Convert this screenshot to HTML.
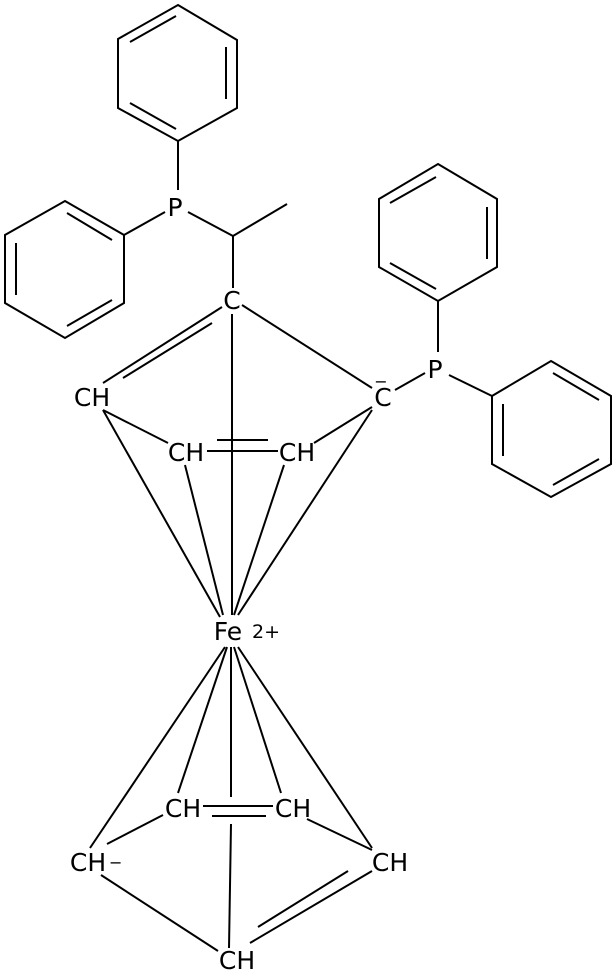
<!DOCTYPE html><html><head><style>body{margin:0;background:#fff}svg{display:block}text{font-family:"DejaVu Sans","Liberation Sans",sans-serif;font-size:25px;fill:#000}</style></head><body>
<svg width="616" height="980" viewBox="0 0 616 980" stroke="#000" stroke-width="2" fill="none">
<polygon points="178,5 237,40 237,108 178,141 118,108 118,39"/>
<line x1="130" y1="42" x2="176" y2="16"/><line x1="226" y1="47" x2="226" y2="99"/><line x1="130" y1="103" x2="176" y2="129"/>
<line x1="178" y1="141" x2="178" y2="190"/>
<polygon points="65,201 124,235 124,303 65,338 5,303 5,235"/>
<line x1="67" y1="213" x2="112" y2="240"/><line x1="16" y1="243" x2="16" y2="295"/><line x1="67" y1="326" x2="112" y2="300"/>
<line x1="124" y1="235" x2="165" y2="212"/>
<line x1="188" y1="212" x2="233" y2="236"/><line x1="233" y1="236" x2="287" y2="204"/><line x1="233" y1="236" x2="233" y2="288"/>
<polygon points="438,164 497,199 497,267 438,301 379,267 379,199"/>
<line x1="390" y1="203" x2="436" y2="177"/><line x1="487" y1="207" x2="487" y2="259"/><line x1="390" y1="263" x2="436" y2="289"/>
<line x1="438" y1="301" x2="438" y2="352"/>
<polygon points="551,361 611,396 611,464 551,497 492,464 492,396"/>
<line x1="553" y1="373" x2="599" y2="400"/><line x1="503" y1="404" x2="503" y2="456"/><line x1="553" y1="485" x2="599" y2="459"/>
<line x1="449" y1="375" x2="492" y2="396"/>
<line x1="395" y1="390" x2="425" y2="373"/>
<line x1="222" y1="307" x2="103" y2="383"/><line x1="212" y1="323" x2="123" y2="378"/>
<line x1="242" y1="305" x2="372" y2="388"/>
<line x1="103" y1="410" x2="168" y2="443"/>
<line x1="314" y1="443" x2="372" y2="407"/>
<line x1="217" y1="440" x2="268" y2="440"/><line x1="207" y1="451" x2="278" y2="451"/>
<line x1="232" y1="314" x2="232" y2="615"/>
<line x1="103" y1="410" x2="220" y2="617"/>
<line x1="185" y1="465" x2="223" y2="615"/>
<line x1="284" y1="465" x2="234" y2="615"/>
<line x1="372" y1="410" x2="238" y2="615"/>
<line x1="225" y1="647" x2="90" y2="848"/>
<line x1="227" y1="647" x2="178" y2="793"/>
<line x1="231" y1="647" x2="231" y2="797"/>
<line x1="234" y1="647" x2="281" y2="793"/>
<line x1="238" y1="647" x2="372" y2="848"/>
<line x1="203" y1="806" x2="273" y2="806"/><line x1="212" y1="816" x2="266" y2="816"/>
<line x1="163" y1="815" x2="107" y2="844"/>
<line x1="307" y1="819" x2="372" y2="850"/>
<line x1="372" y1="871" x2="250" y2="943"/><line x1="348" y1="871" x2="258" y2="927"/>
<line x1="101" y1="875" x2="218" y2="951"/>
<line x1="231" y1="824" x2="229" y2="948"/>
<g stroke="none">
<text x="175" y="216" text-anchor="middle">P</text>
<text x="232" y="309" text-anchor="middle">C</text>
<text x="92" y="406" text-anchor="middle">CH</text>
<text x="186" y="461" text-anchor="middle">CH</text>
<text x="297" y="461" text-anchor="middle">CH</text>
<text x="383" y="406" text-anchor="middle">C</text>
<text x="381" y="387" text-anchor="middle" style="font-size:16px">−</text>
<text x="435" y="378" text-anchor="middle">P</text>
<text x="228" y="640" text-anchor="middle">Fe</text>
<text x="266" y="638" text-anchor="middle" style="font-size:19px">2+</text>
<text x="183" y="817" text-anchor="middle">CH</text>
<text x="293" y="817" text-anchor="middle">CH</text>
<text x="88" y="871" text-anchor="middle">CH</text>
<text x="109" y="868" style="font-size:16px">−</text>
<text x="390" y="871" text-anchor="middle">CH</text>
<text x="237" y="969" text-anchor="middle">CH</text>
</g>
</svg></body></html>
